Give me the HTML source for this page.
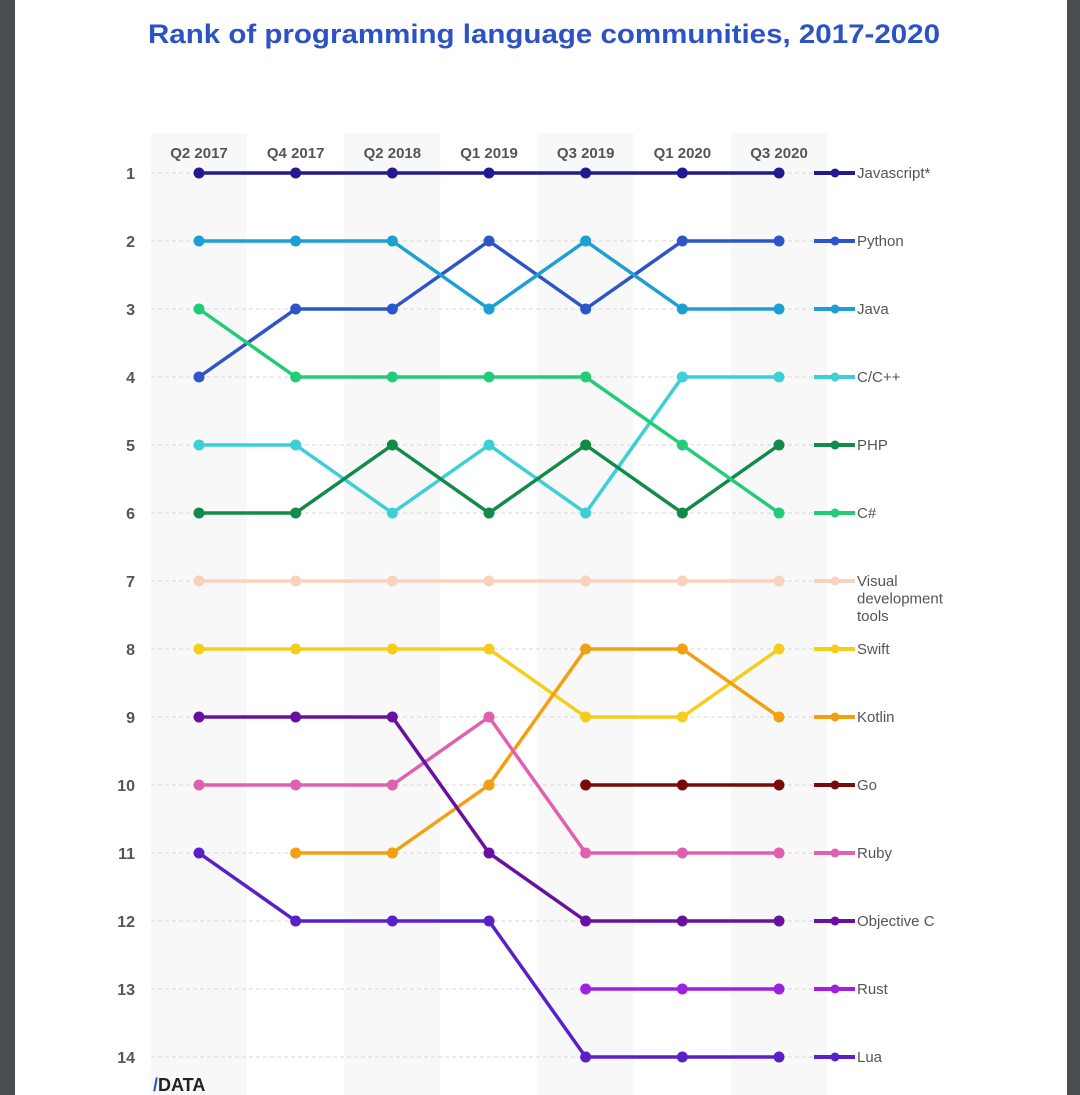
<!DOCTYPE html>
<html><head><meta charset="utf-8"><style>
html,body{margin:0;padding:0;background:#fff;width:1080px;height:1095px;overflow:hidden;font-family:"Liberation Sans",sans-serif}
</style></head><body>
<svg id="chart" width="1080" height="1095" viewBox="0 0 1080 1095" xmlns="http://www.w3.org/2000/svg">
<rect x="0" y="0" width="15" height="1095" fill="#4b4e51"/>
<rect x="1067" y="0" width="13" height="1095" fill="#4b4e51"/>
<text x="148" y="43" textLength="792" lengthAdjust="spacingAndGlyphs" font-size="27" font-weight="bold" fill="#2c52c4">Rank of programming language communities, 2017-2020</text>
<g id="bands"></g><g id="grid"></g><g id="lines"></g><g id="legend"></g>
<text x="153" y="1091" font-size="18" font-weight="bold" fill="#222"><tspan fill="#2c52c4">/</tspan>DATA</text>
</svg>
<script>
const periods=["Q2 2017","Q4 2017","Q2 2018","Q1 2019","Q3 2019","Q1 2020","Q3 2020"];
const ranks=[1,2,3,4,5,6,7,8,9,10,11,12,13,14];
const languages=["Javascript*","Python","Java","C/C++","PHP","C#","Visual development tools","Swift","Kotlin","Go","Ruby","Objective C","Rust","Lua"];
const colors=["#241a8f","#2e55c8","#1e9fd4","#3ccfd8","#118a4a","#22cc77","#f8d2bd","#f5cd1a","#f0a010","#7a0a0a","#e060b0","#6a10a0","#a020e0","#5a20c8"];
const jsRank=[1,1,1,1,1,1,1];
const pythonRank=[4,3,3,2,3,2,2];
const javaRank=[2,2,2,3,2,3,3];
const cppRank=[5,5,6,5,6,4,4];
const phpRank=[6,6,5,6,5,6,5];
const csharpRank=[3,4,4,4,4,5,6];
const visualRank=[7,7,7,7,7,7,7];
const swiftRank=[8,8,8,8,9,9,8];
const kotlinRank=[null,11,11,10,8,8,9];
const goRank=[null,null,null,null,10,10,10];
const rubyRank=[10,10,10,9,11,11,11];
const objcRank=[9,9,9,11,12,12,12];
const rustRank=[null,null,null,null,13,13,13];
const luaRank=[11,12,12,12,14,14,14];
const series=[jsRank,pythonRank,javaRank,cppRank,phpRank,csharpRank,visualRank,swiftRank,kotlinRank,goRank,rubyRank,objcRank,rustRank,luaRank];
const NS="http://www.w3.org/2000/svg";
const x=i=>199+i*96.67;
const y=r=>173+(r-1)*68;
function mk(tag,attrs,parent){const e=document.createElementNS(NS,tag);for(const k in attrs)e.setAttribute(k,attrs[k]);parent.appendChild(e);return e;}
const bands=document.getElementById('bands'),grid=document.getElementById('grid'),lines=document.getElementById('lines'),legend=document.getElementById('legend');
periods.forEach((p,i)=>{
  if(i%2===0){const b=mk('rect',{x:x(i)-48,y:133,width:96,height:962,fill:'#f8f8f8'},bands);
  
  }
  const t=mk('text',{x:x(i),y:158,'text-anchor':'middle','font-size':15,'font-weight':'bold',fill:'#555'},bands);t.textContent=p;
  
  
});
ranks.forEach(r=>{
  const l=mk('line',{x1:151,x2:840,y1:y(r),y2:y(r),stroke:'#d8d8d8','stroke-width':1,'stroke-dasharray':'4 3'},grid);
  
  
  const t=mk('text',{x:135,y:y(r)+6,'text-anchor':'end','font-size':16,'font-weight':'bold',fill:'#555'},grid);t.textContent=r;
  
  
});
series.forEach((s,k)=>{
  const g=mk('g',{},lines);
  
  
  let pts=[];s.forEach((v,i)=>{if(v!=null)pts.push(x(i)+','+y(v));});
  const pl=mk('polyline',{points:pts.join(' '),fill:'none',stroke:colors[k],'stroke-width':3.5,'stroke-linejoin':'round'},g);
  
  
  s.forEach((v,i)=>{if(v==null)return;const c=mk('circle',{cx:x(i),cy:y(v),r:5.5,fill:colors[k]},g);
    
    });
  const last=s[s.length-1];
  const lg=mk('g',{},legend);
  
  
  mk('line',{x1:814,x2:855,y1:y(last),y2:y(last),stroke:colors[k],'stroke-width':4},lg);
  mk('circle',{cx:835,cy:y(last),r:4.5,fill:colors[k]},lg);
  const words=languages[k]==="Visual development tools"?["Visual","development","tools"]:[languages[k]];
  words.forEach((w,j)=>{const t=mk('text',{x:857,y:y(last)+5+j*17.5,'font-size':15,fill:'#555'},lg);t.textContent=w;});
});
</script>
</body></html>
